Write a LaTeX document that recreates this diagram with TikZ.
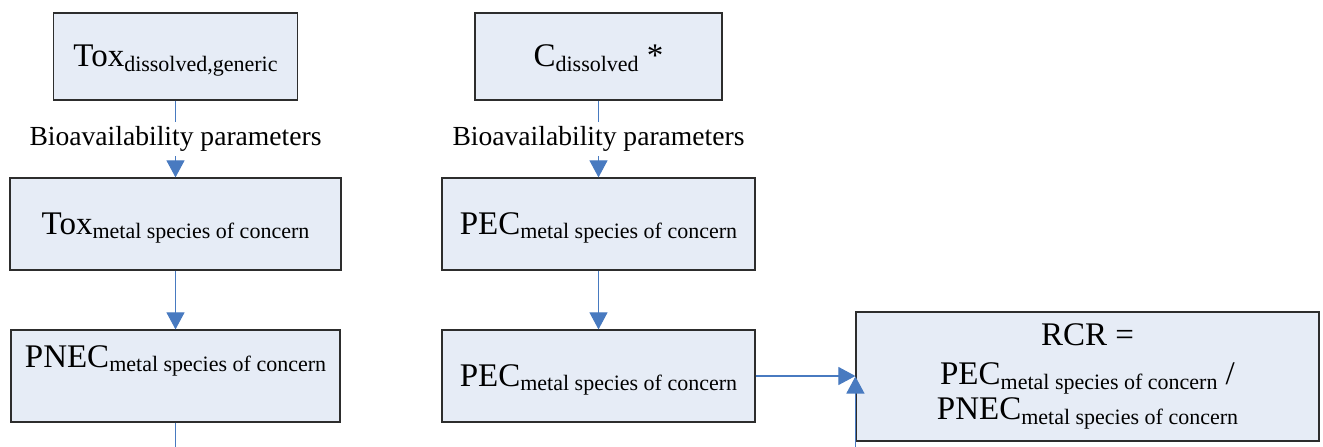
\documentclass[tikz,border=0pt]{standalone}
\usepackage{fontspec}
\setmainfont{Liberation Serif}
\usetikzlibrary{arrows.meta}

\definecolor{boxfill}{RGB}{230,236,246}
\definecolor{boxline}{RGB}{45,45,45}
\definecolor{linkblue}{RGB}{72,122,192}

% lowered, smaller index text after a main symbol
\newcommand{\lowtext}[1]{{\fontsize{16.5pt}{18pt}\selectfont\raisebox{-3.6pt}{#1}}}
\newcommand{\mainsize}{\fontsize{24.75pt}{26.25pt}\selectfont}
\newcommand{\labsize}{\fontsize{20.7pt}{24pt}\selectfont}

\begin{document}
\begin{tikzpicture}[x=0.75pt,y=-0.75pt,
  box/.style={draw=boxline, line width=0.9pt, fill=boxfill, inner sep=0pt,
              font=\mainsize, text height=18pt, text depth=3pt},
  link/.style={draw=linkblue, line width=0.8pt,
               -{Triangle[length=12.75pt,width=13.5pt]}},
  lab/.style={fill=white, font=\labsize, inner xsep=2pt, inner ysep=3pt}]

\useasboundingbox (0,0) rectangle (1323,446);
\clip (0,0) rectangle (1323,446);

% left column: toxicity side
\node[box, minimum width=183pt, minimum height=65.25pt] (toxgen) at (175.5,56.5)
  {Tox\lowtext{dissolved,generic}};
\node[box, minimum width=248.25pt, minimum height=69pt] (toxmsc) at (175.5,224)
  {Tox\lowtext{metal species of concern}};
\node[box, minimum width=246.75pt, minimum height=69pt, text depth=31.5pt] (pnec) at (175.5,376)
  {PNEC\lowtext{metal species of concern}};

% middle column: exposure side
\node[box, minimum width=185.25pt, minimum height=65.25pt] (cdis) at (598.5,56.5)
  {C\lowtext{dissolved} *};
\node[box, minimum width=234.75pt, minimum height=69pt] (pec1) at (598.5,224)
  {PEC\lowtext{metal species of concern}};
\node[box, minimum width=234.75pt, minimum height=69pt] (pec2) at (598.5,376)
  {PEC\lowtext{metal species of concern}};

% risk characterisation ratio
\node[box, minimum width=347.25pt, minimum height=96.75pt, align=center,
      text height=, text depth=] (rcr) at (1087.5,376.5)
  {RCR =\\[3pt]
   PEC\lowtext{metal species of concern} /\\
   PNEC\lowtext{metal species of concern}};

% connectors
\draw[link] (toxgen.south) -- node[lab] (bioL) {Bioavailability parameters} (toxmsc.north);
\draw[link] (toxmsc.south) -- (pnec.north);
\draw[link] (cdis.south) -- node[lab] (bioM) {Bioavailability parameters} (pec1.north);
\draw[link] (pec1.south) -- (pec2.north);
\draw[link] (pec2.east) -- (pec2.east -| rcr.west);
\draw[link] (pnec.south) -- ++(0,40) -| (rcr.west);
\end{tikzpicture}
\end{document}
